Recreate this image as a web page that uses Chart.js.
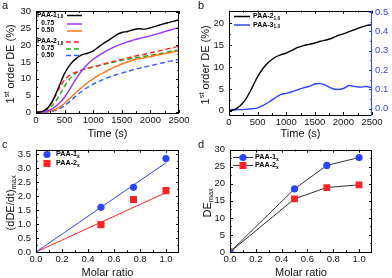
<!DOCTYPE html>
<html>
<head>
<meta charset="utf-8">
<script src="https://cdn.jsdelivr.net/npm/chart.js@4.4.1/dist/chart.umd.min.js"></script>
<style>
  html, body { margin: 0; padding: 0; background: #fff; }
  .panel { position: absolute; width: 196px; height: 139px; }
</style>
</head>
<body>
<div class="panel" style="left:0;top:0"><canvas id="chartA" width="196" height="139"></canvas></div>
<div class="panel" style="left:196px;top:0"><canvas id="chartB" width="196" height="139"></canvas></div>
<div class="panel" style="left:0;top:139px"><canvas id="chartC" width="196" height="139"></canvas></div>
<div class="panel" style="left:196px;top:139px"><canvas id="chartD" width="196" height="139"></canvas></div>
<script>
// ---- data ----
const timeS = [0, 100, 200, 300, 400, 500, 600, 700, 800, 900, 1000, 1100, 1200,
  1300, 1400, 1500, 1600, 1700, 1800, 1900, 2000, 2100, 2200, 2300, 2400, 2500];

// panel a: 1st order DE (%)
const paa1_100 = [0, 0.2, 1.2, 3.8, 7.6, 11.6, 14.3, 16.0, 17.1, 17.6, 18.3, 19.6, 20.8,
  21.8, 23.0, 23.8, 24.1, 24.6, 24.9, 24.8, 25.2, 25.7, 26.2, 26.7, 27.1, 27.6];
const paa1_075 = [0, 0.1, 0.4, 1.2, 2.6, 4.5, 7.2, 10.0, 12.4, 14.3, 15.8, 17.0, 18.0,
  18.9, 19.7, 20.4, 21.0, 21.5, 22.0, 22.4, 22.8, 23.3, 23.8, 24.3, 24.8, 25.2];
const paa1_050 = [0, 0, 0.2, 0.6, 1.4, 2.7, 4.3, 5.9, 7.4, 8.8, 10.0, 11.1, 12.0,
  12.9, 13.7, 14.4, 15.0, 15.6, 16.0, 16.3, 16.6, 17.0, 17.3, 17.7, 18.0, 18.3];
const paa2_100 = [0, 0.3, 1.2, 3.5, 7.0, 9.6, 11.2, 12.0, 12.6, 13.1, 13.6, 14.0, 14.5,
  15.0, 15.4, 15.8, 16.2, 16.6, 17.0, 17.3, 17.7, 18.1, 18.5, 18.9, 19.3, 19.7];
const paa2_075 = [0, 0.2, 0.8, 2.3, 4.8, 7.8, 10.2, 11.7, 12.6, 13.1, 13.5, 13.9, 14.3,
  14.7, 15.1, 15.5, 15.8, 16.1, 16.4, 16.7, 17.0, 17.3, 17.6, 18.0, 18.4, 18.6];
const paa2_050 = [0, 0, 0.1, 0.4, 1.0, 2.0, 3.4, 4.9, 6.2, 7.4, 8.4, 9.2, 10.0,
  10.6, 11.2, 11.7, 12.2, 12.7, 13.1, 13.5, 13.9, 14.3, 14.7, 15.1, 15.4, 15.8];

// panel b
const bPaa2_100 = [0, 0.3, 1.2, 2.8, 5.2, 7.8, 9.8, 11.2, 12.2, 12.8, 13.2, 13.8, 14.5,
  14.9, 15.2, 15.5, 15.9, 16.2, 16.6, 17.2, 17.6, 18.1, 18.6, 19.1, 19.5, 19.7];
const bPaa3_100 = [-0.004, -0.004, -0.004, -0.003, 0.0, 0.005, 0.018, 0.035, 0.055, 0.073,
  0.08, 0.088, 0.098, 0.108, 0.115, 0.128, 0.13, 0.12, 0.105, 0.1, 0.105, 0.12, 0.115,
  0.112, 0.115, 0.108];

// panel c
const molarRatio = [0.5, 0.75, 1.0];
const rateMaxPaa1 = [1.6, 2.32, 3.35];
const rateMaxPaa2 = [0.98, 1.88, 2.2];
const fitX = [0, 1.0];
const fitPaa1 = [0, 3.2];
const fitPaa2 = [0, 2.13];

// panel d
const dMolar = [0, 0.5, 0.75, 1.0];
const deMaxPaa1 = [0, 18.5, 25.4, 27.7];
const deMaxPaa2 = [0, 15.6, 18.9, 19.7];

// tick labels
const timeTicks = [0, 500, 1000, 1500, 2000, 2500];
const aYTicks = [0, 5, 10, 15, 20, 25, 30];
const bYTicks = [0, 5, 10, 15, 20];
const bY1Ticks = [0, 0.1, 0.2, 0.3, 0.4, 0.5];
const cYTicks = [0, 0.5, 1.0, 1.5, 2.0, 2.5, 3.0, 3.5];
const molarTicks = [0, 0.2, 0.4, 0.6, 0.8, 1.0];
const dYTicks = [0, 5, 10, 15, 20, 25, 30];

// ---- helpers ----
const FONT = '"Liberation Sans", Arial, sans-serif';
Chart.defaults.font.family = FONT;
Chart.defaults.animation = false;
const BLUE = '#2b45ff';
const RED = '#ff2222';

const pts = (xs, ys) => xs.map((x, i) => ({ x: x, y: ys[i] }));
const fix1 = v => Number(v).toFixed(1);

function linScale(o) {
  return {
    type: 'linear', position: o.pos, min: o.min, max: o.max,
    grid: { display: false, drawTicks: false },
    border: { display: false },
    ticks: { color: o.color || '#111', font: { size: 9.5 }, padding: o.pad,
      maxRotation: 0, autoSkip: false, callback: o.fmt || (v => v) },
    afterBuildTicks: s => { s.ticks = o.ticks.map(v => ({ value: v })); },
    afterFit: s => { if (s.isHorizontal()) s.height = o.size; else s.width = o.size; }
  };
}

function drawRich(ctx, parts, x, y, size, bold, rotate, align) {
  const w = b => (bold ? 'bold ' : '') + b + 'px ' + FONT;
  let total = 0;
  parts.forEach(p => {
    ctx.font = w(p[1] ? size * 0.68 : size);
    total += ctx.measureText(p[0]).width;
  });
  ctx.save();
  ctx.translate(x, y);
  if (rotate) ctx.rotate(-Math.PI / 2);
  let cx = align === 'left' ? 0 : align === 'right' ? -total : -total / 2;
  ctx.textBaseline = 'middle';
  ctx.textAlign = 'left';
  parts.forEach(p => {
    const s = p[1] ? size * 0.68 : size;
    ctx.font = w(s);
    const dy = p[1] === 'sub' ? size * 0.3 : p[1] === 'sup' ? -size * 0.35 : 0;
    ctx.fillText(p[0], cx, dy);
    cx += ctx.measureText(p[0]).width;
  });
  ctx.restore();
}

function tickMarks(ctx, scale, sides, color) {
  const a = scale.chart.chartArea;
  const vals = scale.ticks.map(t => t.value);
  const marks = [];
  vals.forEach((v, i) => {
    marks.push([v, 3]);
    if (i < vals.length - 1) marks.push([(v + vals[i + 1]) / 2, 1.8]);
  });
  ctx.save();
  ctx.strokeStyle = color;
  ctx.lineWidth = 1;
  marks.forEach(m => {
    const p = Math.round(scale.getPixelForValue(m[0])) + 0.5;
    sides.forEach(side => {
      ctx.beginPath();
      if (side === 'bottom') { ctx.moveTo(p, a.bottom); ctx.lineTo(p, a.bottom - m[1]); }
      if (side === 'top') { ctx.moveTo(p, a.top); ctx.lineTo(p, a.top + m[1]); }
      if (side === 'left') { ctx.moveTo(a.left, p); ctx.lineTo(a.left + m[1], p); }
      if (side === 'right') { ctx.moveTo(a.right, p); ctx.lineTo(a.right - m[1], p); }
      ctx.stroke();
    });
  });
  ctx.restore();
}

function framePlugin(spec) {
  return {
    id: 'frame' + spec.letter,
    afterDraw(chart) {
      const ctx = chart.ctx, a = chart.chartArea;
      ctx.save();
      ctx.strokeStyle = '#000';
      ctx.lineWidth = 1;
      ctx.strokeRect(Math.round(a.left) + 0.5, Math.round(a.top) + 0.5,
        Math.round(a.right - a.left) - 1, Math.round(a.bottom - a.top));
      if (chart.scales.y1) {
        ctx.strokeStyle = BLUE;
        ctx.beginPath();
        ctx.moveTo(Math.round(a.right) - 0.5, a.top);
        ctx.lineTo(Math.round(a.right) - 0.5, a.bottom + 1);
        ctx.stroke();
      }
      ctx.restore();
      tickMarks(ctx, chart.scales.x, ['bottom', 'top'], '#000');
      tickMarks(ctx, chart.scales.y, chart.scales.y1 ? ['left'] : ['left', 'right'], '#000');
      if (chart.scales.y1) tickMarks(ctx, chart.scales.y1, ['right'], BLUE);

      ctx.fillStyle = '#111';
      drawRich(ctx, spec.xTitle, (a.left + a.right) / 2, 134, 11, false, false);
      drawRich(ctx, spec.yTitle, spec.yTitleX, (a.top + a.bottom) / 2 + 2, 11, false, true);
      ctx.font = '11px ' + FONT;
      ctx.textBaseline = 'alphabetic';
      ctx.textAlign = 'left';
      ctx.fillText(spec.letter, 2, 9);
      if (spec.legend) spec.legend(ctx);
    }
  };
}

function legLine(ctx, x1, x2, y, color, dash) {
  ctx.save();
  ctx.strokeStyle = color;
  ctx.lineWidth = 1.5;
  ctx.setLineDash(dash || []);
  ctx.beginPath();
  ctx.moveTo(x1, y);
  ctx.lineTo(x2, y);
  ctx.stroke();
  ctx.restore();
}

function lineSet(ys, color, dash) {
  return { data: pts(timeS, ys), borderColor: color, borderWidth: 1.4, borderDash: dash || [],
    pointRadius: 0, tension: 0.3, fill: false };
}

const timeTitle = [['Time (s)', '']];
const deTitle = [['1', ''], ['st', 'sup'], [' order DE (%)', '']];
const molarTitle = [['Molar ratio', '']];

// ---- panel a ----
new Chart(document.getElementById('chartA'), {
  type: 'line',
  data: { datasets: [
    lineSet(paa1_100, '#000'),
    lineSet(paa1_075, '#9b30ff'),
    lineSet(paa1_050, '#ff7010'),
    lineSet(paa2_100, RED, [5, 3]),
    lineSet(paa2_075, '#1faa1f', [5, 3]),
    lineSet(paa2_050, '#3060ff', [5, 3])
  ] },
  options: {
    responsive: false,
    layout: { padding: { top: 11, right: 17, left: 0, bottom: 0 } },
    plugins: { legend: { display: false }, tooltip: { enabled: false } },
    scales: {
      x: linScale({ pos: 'bottom', min: 0, max: 2500, ticks: timeTicks, size: 26, pad: 2 }),
      y: linScale({ pos: 'left', min: -0.2, max: 30.2, ticks: aYTicks, size: 36, pad: 5 })
    }
  },
  plugins: [framePlugin({ letter: 'a', xTitle: timeTitle, yTitle: deTitle, yTitleX: 11,
    legend(ctx) {
      ctx.fillStyle = '#000';
      drawRich(ctx, [['PAA-1', ''], ['1.0', 'sub']], 37, 15, 6.8, true, false, 'left');
      drawRich(ctx, [['0.75', '']], 54, 23.5, 6.5, true, false, 'right');
      drawRich(ctx, [['0.50', '']], 54, 30.5, 6.5, true, false, 'right');
      drawRich(ctx, [['PAA-2', ''], ['1.0', 'sub']], 37, 41.5, 6.8, true, false, 'left');
      drawRich(ctx, [['0.75', '']], 54, 48.5, 6.5, true, false, 'right');
      drawRich(ctx, [['0.50', '']], 54, 55, 6.5, true, false, 'right');
      legLine(ctx, 67, 82, 15.5, '#000');
      legLine(ctx, 67, 82, 24, '#9b30ff');
      legLine(ctx, 67, 82, 31, '#ff7010');
      legLine(ctx, 66, 82, 42, RED, [5, 3]);
      legLine(ctx, 66, 82, 49, '#1faa1f', [5, 3]);
      legLine(ctx, 66, 82, 55.5, '#3060ff', [5, 3]);
    } })]
});

// ---- panel b ----
new Chart(document.getElementById('chartB'), {
  type: 'line',
  data: { datasets: [
    Object.assign(lineSet(bPaa2_100, '#000'), { yAxisID: 'y' }),
    Object.assign(lineSet(bPaa3_100, BLUE), { yAxisID: 'y1' })
  ] },
  options: {
    responsive: false,
    layout: { padding: { top: 8, right: 0, left: 0, bottom: 0 } },
    plugins: { legend: { display: false }, tooltip: { enabled: false } },
    scales: {
      x: linScale({ pos: 'bottom', min: 0, max: 2500, ticks: timeTicks, size: 24, pad: 2 }),
      y: linScale({ pos: 'left', min: -0.96, max: 22.9, ticks: bYTicks, size: 33, pad: 5 }),
      y1: linScale({ pos: 'right', min: -0.032, max: 0.5065, ticks: bY1Ticks, size: 20, pad: 3,
        color: BLUE, fmt: fix1 })
    }
  },
  plugins: [framePlugin({ letter: 'b', xTitle: timeTitle, yTitle: deTitle, yTitleX: 10,
    legend(ctx) {
      legLine(ctx, 38, 54, 16.5, '#000');
      legLine(ctx, 38, 54, 25, BLUE);
      ctx.fillStyle = '#000';
      drawRich(ctx, [['PAA-2', ''], ['1.0', 'sub']], 57, 16.5, 7, true, false, 'left');
      drawRich(ctx, [['PAA-3', ''], ['1.0', 'sub']], 57, 25, 7, true, false, 'left');
    } })]
});

// ---- panel c ----
new Chart(document.getElementById('chartC'), {
  type: 'scatter',
  data: { datasets: [
    { data: pts(fitX, fitPaa1), showLine: true, borderColor: BLUE, borderWidth: 1, pointRadius: 0 },
    { data: pts(fitX, fitPaa2), showLine: true, borderColor: RED, borderWidth: 1, pointRadius: 0 },
    { data: pts(molarRatio, rateMaxPaa1), pointStyle: 'circle', pointRadius: 3.6,
      backgroundColor: BLUE, borderColor: BLUE, borderWidth: 0 },
    { data: pts(molarRatio, rateMaxPaa2), pointStyle: 'rect', pointRadius: 5,
      backgroundColor: RED, borderColor: RED, borderWidth: 0 }
  ] },
  options: {
    responsive: false,
    layout: { padding: { top: 10, right: 17, left: 0, bottom: 0 } },
    plugins: { legend: { display: false }, tooltip: { enabled: false } },
    scales: {
      x: linScale({ pos: 'bottom', min: 0, max: 1.1, ticks: molarTicks, size: 26, pad: 2, fmt: fix1 }),
      y: linScale({ pos: 'left', min: 0, max: 3.667, ticks: cYTicks, size: 36, pad: 5, fmt: fix1 })
    }
  },
  plugins: [framePlugin({ letter: 'c', xTitle: molarTitle,
    yTitle: [['(dDE/dt)', ''], ['max', 'sub']], yTitleX: 11,
    legend(ctx) {
      ctx.fillStyle = BLUE;
      ctx.beginPath();
      ctx.arc(47, 15.5, 3.6, 0, Math.PI * 2);
      ctx.fill();
      ctx.fillStyle = RED;
      ctx.fillRect(43.5, 21, 7, 7);
      ctx.fillStyle = '#000';
      drawRich(ctx, [['PAA-1', ''], ['x', 'sub']], 56, 15.5, 7.2, true, false, 'left');
      drawRich(ctx, [['PAA-2', ''], ['x', 'sub']], 56, 24.5, 7.2, true, false, 'left');
    } })]
});

// ---- panel d ----
new Chart(document.getElementById('chartD'), {
  type: 'line',
  data: { datasets: [
    { data: pts(dMolar, deMaxPaa1), borderColor: '#333', borderWidth: 1, pointStyle: 'circle',
      pointRadius: 3.6, pointBackgroundColor: BLUE, pointBorderColor: BLUE, pointBorderWidth: 0 },
    { data: pts(dMolar, deMaxPaa2), borderColor: '#333', borderWidth: 1, pointStyle: 'rect',
      pointRadius: 4.8, pointBackgroundColor: RED, pointBorderColor: RED, pointBorderWidth: 0 }
  ] },
  options: {
    responsive: false,
    layout: { padding: { top: 8, right: 20, left: 0, bottom: 0 } },
    plugins: { legend: { display: false }, tooltip: { enabled: false } },
    scales: {
      x: linScale({ pos: 'bottom', min: 0, max: 1.1, ticks: molarTicks, size: 26, pad: 2, fmt: fix1 }),
      y: linScale({ pos: 'left', min: 0, max: 30, ticks: dYTicks, size: 34, pad: 5 })
    }
  },
  plugins: [framePlugin({ letter: 'd', xTitle: molarTitle,
    yTitle: [['DE', ''], ['max', 'sub']], yTitleX: 12,
    legend(ctx) {
      ctx.save();
      ctx.strokeStyle = '#333';
      ctx.lineWidth = 1;
      ctx.beginPath();
      ctx.moveTo(37, 18.5); ctx.lineTo(57, 18.5);
      ctx.moveTo(37, 26.5); ctx.lineTo(57, 26.5);
      ctx.stroke();
      ctx.restore();
      ctx.fillStyle = BLUE;
      ctx.beginPath();
      ctx.arc(47, 18.5, 3.6, 0, Math.PI * 2);
      ctx.fill();
      ctx.fillStyle = RED;
      ctx.fillRect(43.5, 23, 7, 7);
      ctx.fillStyle = '#000';
      drawRich(ctx, [['PAA-1', ''], ['x', 'sub']], 59, 18.5, 7.2, true, false, 'left');
      drawRich(ctx, [['PAA-2', ''], ['x', 'sub']], 59, 26.5, 7.2, true, false, 'left');
    } })]
});
</script>
</body>
</html>
